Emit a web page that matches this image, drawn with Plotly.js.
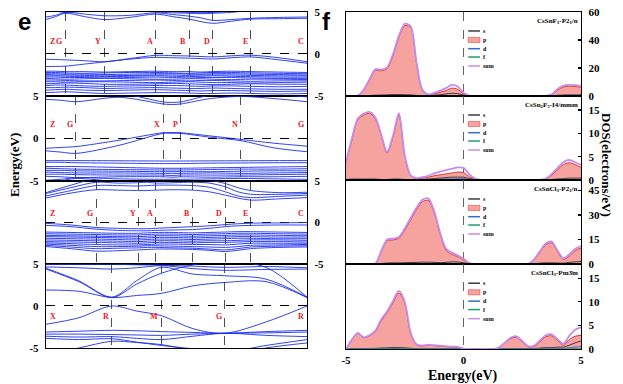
<!DOCTYPE html>
<html><head><meta charset="utf-8">
<script src="https://cdn.plot.ly/plotly-3.0.1.min.js"></script>
<style>html,body{margin:0;padding:0;background:#fff}#chart{width:623px;height:384px}</style>
</head><body><div id="chart"></div>
<script>
// ---------------- band structure data ----------------
const kLab1 = ['Z','G','Y','A','B','D','E','C'];
const kPos1 = [0,0.074,0.223,0.420,0.549,0.639,0.784,1];
const kGrid1 = [0,0.037,0.074,0.148,0.223,0.32,0.420,0.485,0.549,0.594,0.639,0.71,0.784,0.892,1];
const bands1 = [
 [4.1,4.45,4.85,4.45,4.1,4.35,4.75,4.45,4.15,3.85,3.65,3.9,4.15,4.2,4.25],
 [4.4,4.6,4.95,4.75,4.55,4.6,4.9,4.7,4.5,4.3,4.0,4.1,4.25,4.35,4.4],
 [5.3,5.1,4.95,5.1,5.3,5.2,5.0,4.9,4.85,4.8,4.85,4.95,5.2,5.3,5.3],
 [5.5,5.4,5.3,5.3,5.4,5.5,5.3,5.05,4.95,4.92,4.95,5.1,5.3,5.5,5.6],
 [-0.63,-0.66,-0.7,-0.8,-0.92,-0.55,-0.16,-0.2,-0.24,-0.3,-0.35,-0.22,-0.14,-0.45,-0.92],
 [-1.5,-1.48,-1.45,-1.2,-0.95,-0.62,-0.4,-0.45,-0.5,-0.55,-0.6,-0.45,-0.35,-0.7,-1.1],
 [-2.05,-2.05,-2.1,-2.1,-2.15,-2.1,-2.05,-2.1,-2.1,-2.15,-2.1,-2.05,-2.1,-2.15,-2.2],
 [-2.2,-2.2,-2.25,-2.3,-2.25,-2.2,-2.2,-2.25,-2.3,-2.25,-2.2,-2.2,-2.25,-2.3,-2.35],
 [-2.35,-2.35,-2.4,-2.4,-2.45,-2.4,-2.35,-2.35,-2.4,-2.4,-2.35,-2.35,-2.4,-2.45,-2.5],
 [-2.45,-2.5,-2.5,-2.55,-2.6,-2.55,-2.5,-2.5,-2.55,-2.5,-2.5,-2.5,-2.55,-2.6,-2.6],
 [-2.6,-2.6,-2.65,-2.7,-2.7,-2.65,-2.6,-2.65,-2.7,-2.65,-2.6,-2.65,-2.7,-2.75,-2.75],
 [-2.75,-2.75,-2.8,-2.8,-2.85,-2.8,-2.75,-2.8,-2.85,-2.8,-2.8,-2.8,-2.85,-2.9,-2.9],
 [-2.9,-2.95,-3.0,-2.95,-2.9,-2.95,-3.0,-3.0,-2.95,-2.95,-3.0,-3.05,-3.0,-3.0,-3.05],
 [-3.1,-3.1,-3.15,-3.2,-3.2,-3.15,-3.1,-3.15,-3.2,-3.15,-3.15,-3.2,-3.25,-3.2,-3.2],
 [-3.3,-3.3,-3.35,-3.3,-3.3,-3.35,-3.4,-3.35,-3.3,-3.35,-3.4,-3.4,-3.45,-3.4,-3.35],
 [-3.55,-3.5,-3.45,-3.5,-3.6,-3.6,-3.55,-3.5,-3.55,-3.6,-3.65,-3.6,-3.55,-3.6,-3.6],
 [-3.75,-3.7,-3.7,-3.8,-3.85,-3.8,-3.75,-3.75,-3.8,-3.85,-3.8,-3.8,-3.85,-3.9,-3.85],
 [-4.0,-4.0,-3.95,-4.0,-4.1,-4.05,-4.0,-4.05,-4.1,-4.1,-4.05,-4.1,-4.15,-4.2,-4.2],
 [-4.3,-4.25,-4.2,-4.3,-4.35,-4.3,-4.25,-4.3,-4.35,-4.4,-4.35,-4.35,-4.4,-4.45,-4.4],
 [-4.6,-4.55,-4.5,-4.6,-4.7,-4.65,-4.6,-4.6,-4.65,-4.7,-4.7,-4.65,-4.7,-4.75,-4.7]
];

const kLab2 = ['Z','G','X','P','N','G'];
const kPos2 = [0,0.115,0.449,0.516,0.746,1];
const kGrid2 = [0,0.057,0.115,0.28,0.449,0.483,0.516,0.63,0.746,0.873,1];
const bands2 = [
 [4.6,4.5,4.33,4.85,4.06,4.0,4.06,4.7,4.95,4.7,4.33],
 [5.3,5.2,5.05,5.3,4.3,4.25,4.3,5.1,5.3,5.15,4.9],
 [-1.15,-1.05,-0.95,-0.2,0.68,0.7,0.68,0.3,-0.1,-0.55,-0.9],
 [-1.45,-1.6,-1.75,-0.8,0.6,0.62,0.6,0.15,-0.25,-1.1,-1.55],
 [-2.6,-2.6,-2.6,-2.62,-2.65,-2.65,-2.65,-2.63,-2.62,-2.6,-2.6],
 [-2.8,-2.8,-2.85,-2.9,-2.95,-2.95,-2.95,-2.9,-2.88,-2.85,-2.85],
 [-3.3,-3.3,-3.3,-3.4,-3.5,-3.5,-3.5,-3.45,-3.4,-3.35,-3.3],
 [-3.5,-3.55,-3.6,-3.65,-3.7,-3.7,-3.7,-3.65,-3.6,-3.6,-3.55],
 [-3.75,-3.75,-3.8,-3.85,-3.9,-3.9,-3.9,-3.9,-3.85,-3.8,-3.8],
 [-3.95,-4.0,-4.05,-4.05,-4.1,-4.1,-4.1,-4.05,-4.1,-4.05,-4.0],
 [-4.2,-4.2,-4.25,-4.3,-4.3,-4.35,-4.3,-4.3,-4.3,-4.25,-4.2],
 [-4.45,-4.5,-4.6,-4.5,-4.5,-4.55,-4.5,-4.55,-4.5,-4.5,-4.45],
 [-4.9,-4.8,-4.6,-4.75,-4.8,-4.8,-4.8,-4.75,-4.7,-4.75,-4.8],
 [-5.4,-5.0,-4.7,-5.1,-5.3,-5.3,-5.3,-5.2,-5.0,-5.1,-5.3]
];

const kLab3 = ['Z','G','Y','A','B','D','E','C'];
const kPos3 = [0,0.192,0.355,0.421,0.562,0.687,0.784,1];
const kGrid3 = [0,0.096,0.192,0.274,0.355,0.388,0.421,0.49,0.562,0.625,0.687,0.735,0.784,0.892,1];
const bands3 = [
 [2.95,3.55,3.95,3.9,3.85,3.85,3.9,3.95,3.9,3.7,3.3,2.95,2.7,2.85,3.0],
 [3.2,3.85,4.45,4.45,4.4,4.45,4.5,4.5,4.45,4.25,3.7,3.2,3.0,3.15,3.3],
 [3.5,4.2,4.85,4.75,4.8,4.85,4.75,4.8,4.85,4.75,4.3,3.7,3.4,3.4,3.5],
 [3.6,4.5,5.3,5.2,5.05,5.0,5.1,5.2,5.2,5.1,4.7,4.2,3.85,3.6,3.65],
 [-0.1,-0.3,-0.6,-0.7,-0.75,-0.75,-0.7,-0.6,-0.5,-0.4,-0.25,-0.15,-0.08,-0.05,0.0],
 [-0.35,-0.5,-0.8,-0.95,-1.0,-1.0,-0.95,-0.9,-0.85,-0.7,-0.5,-0.4,-0.35,-0.3,-0.3],
 [-1.15,-1.2,-1.25,-1.3,-1.3,-1.25,-1.2,-1.2,-1.25,-1.2,-1.15,-1.1,-1.1,-1.15,-1.2],
 [-1.35,-1.4,-1.45,-1.5,-1.5,-1.45,-1.4,-1.4,-1.45,-1.4,-1.35,-1.3,-1.3,-1.35,-1.4],
 [-1.55,-1.6,-1.65,-1.7,-1.7,-1.65,-1.6,-1.6,-1.65,-1.6,-1.55,-1.5,-1.5,-1.55,-1.6],
 [-1.7,-1.75,-1.8,-1.85,-1.9,-1.85,-1.8,-1.8,-1.85,-1.8,-1.75,-1.7,-1.7,-1.75,-1.75],
 [-1.9,-1.95,-2.0,-2.05,-2.1,-2.05,-2.0,-2.0,-2.05,-2.0,-1.95,-1.9,-1.9,-1.95,-1.95],
 [-2.1,-2.15,-2.2,-2.25,-2.3,-2.25,-2.2,-2.2,-2.25,-2.2,-2.2,-2.15,-2.1,-2.1,-2.15],
 [-2.3,-2.35,-2.4,-2.45,-2.5,-2.45,-2.4,-2.4,-2.45,-2.4,-2.4,-2.35,-2.3,-2.3,-2.35],
 [-2.45,-2.55,-2.65,-2.7,-2.7,-2.65,-2.6,-2.6,-2.65,-2.65,-2.7,-2.6,-2.5,-2.5,-2.5],
 [-2.6,-2.75,-2.9,-2.9,-2.85,-2.8,-2.8,-2.85,-2.9,-2.95,-3.0,-2.9,-2.75,-2.7,-2.65],
 [-2.75,-2.95,-3.15,-3.1,-3.05,-3.0,-3.0,-3.05,-3.1,-3.2,-3.3,-3.15,-2.95,-2.85,-2.8],
 [-2.9,-3.15,-3.45,-3.4,-3.3,-3.25,-3.2,-3.2,-3.25,-3.35,-3.5,-3.35,-3.15,-3.0,-2.95]
];

const kLab4 = ['X','R','M','G','R'];
const kPos4 = [0,0.252,0.442,0.685,1];
const kGrid4 = [0,0.126,0.252,0.347,0.442,0.563,0.685,0.843,1];
const bands4 = [
 [1.9,1.75,1.0,1.25,1.5,2.4,2.8,2.9,1.0],
 [4.4,2.9,1.0,2.6,3.9,4.9,5.3,4.6,1.05],
 [4.5,3.0,1.05,3.0,4.6,3.8,3.6,3.2,1.05],
 [4.65,4.55,4.4,4.55,4.8,4.45,4.25,4.35,4.4],
 [4.95,4.95,4.97,4.9,4.85,4.75,4.6,4.7,4.55],
 [-2.18,-1.4,0,-0.6,-1.15,-2.7,-3.25,-1.9,0],
 [-3.1,-3.0,-2.9,-2.95,-3.05,-3.15,-3.25,-3.05,-2.9],
 [-3.35,-3.35,-3.4,-3.45,-3.5,-3.35,-3.25,-3.2,-3.1],
 [-3.6,-3.7,-3.65,-3.85,-4.0,-3.6,-3.25,-3.5,-3.65],
 [-3.85,-4.0,-3.9,-4.3,-4.7,-5.1,-5.5,-4.7,-4.0],
 [-5.8,-5.0,-4.2,-4.35,-4.6,-5.3,-6.0,-5.0,-4.4]
];

// ---------------- DOS data ----------------
const energyGrid = [-5,-4.75,-4.5,-4.25,-4,-3.75,-3.5,-3.25,-3,-2.75,-2.5,-2.25,-2,-1.75,-1.5,-1.25,-1,-0.75,-0.5,-0.25,0,0.25,0.5,0.75,1,1.25,1.5,1.75,2,2.25,2.5,2.75,3,3.25,3.5,3.75,4,4.25,4.5,4.75,5];

const sum1 = [0,0,0.3,4.5,12,19,18.8,20.5,30,43, 51.5,50,24,4.5,1.2,2.2,3.8,5.6,7.9,6.8, 2.4,0.2,0,0,0,0,0,0,0,0, 0,0,0,0,0.1,1.2,5,7.4,8,7.8, 7.2];
const p1 = [0,0,0.25,4.2,11.4,18.2,18,19.6,28.8,41.8, 50.3,49,23.4,4.2,0.9,1.5,2.6,3.9,5.6,4.8, 1.6,0.1,0,0,0,0,0,0,0,0, 0,0,0,0,0.05,0.9,4.2,6.4,7,6.8, 6.3];
const s1 = [0,0,0,0.1,0.3,0.6,0.7,0.8,1.0,1.0, 0.9,0.8,0.4,0.2,0.2,0.5,0.9,1.4,1.9,1.7, 0.7,0.1,0,0,0,0,0,0,0,0, 0,0,0,0,0,0.2,0.5,0.7,0.8,0.8, 0.8];
const d1 = [0,0,0,0.05,0.1,0.15,0.15,0.15,0.2,0.2, 0.25,0.2,0.1,0.05,0.05,0.1,0.15,0.2,0.3,0.3, 0.1,0,0,0,0,0,0,0,0,0, 0,0,0,0,0,0.05,0.15,0.2,0.2,0.2, 0.2];
const f1 = [0,0,0,0,0.02,0.03,0.03,0.03,0.04,0.05, 0.05,0.05,0.03,0,0,0,0.02,0.03,0.05,0.05, 0.02,0,0,0,0,0,0,0,0,0, 0,0,0,0,0,0.01,0.03,0.05,0.05,0.05, 0.05];

const sum2 = [3.9,8.9,13.2,14.2,14.6,13.4,9.7,6.0,9.5,14.3, 5.3,1.0,0.4,0.6,0.9,1.4,1.8,2.1,2.4,2.7, 2.6,1.2,0.3,0,0,0,0,0,0,0, 0,0,0,0,0.3,1.3,2.6,3.8,4.3,3.8, 3.2];
const p2 = [3.7,8.6,12.9,13.9,14.3,13.1,9.5,5.8,9.2,14.0, 5.1,0.9,0.3,0.4,0.6,0.9,1.1,1.3,1.5,1.7, 1.6,0.7,0.15,0,0,0,0,0,0,0, 0,0,0,0,0.2,1.0,2.2,3.3,3.7,3.3, 2.7];
const s2 = [0.1,0.2,0.2,0.2,0.2,0.2,0.1,0.1,0.2,0.2, 0.1,0.05,0.05,0.1,0.2,0.3,0.4,0.5,0.6,0.6, 0.6,0.3,0.1,0,0,0,0,0,0,0, 0,0,0,0,0.05,0.1,0.2,0.3,0.4,0.4, 0.4];
const d2 = [0.05,0.08,0.1,0.1,0.1,0.1,0.08,0.06,0.08,0.1, 0.05,0.03,0.02,0.05,0.08,0.1,0.15,0.2,0.2,0.25, 0.25,0.1,0.03,0,0,0,0,0,0,0, 0,0,0,0,0.03,0.1,0.15,0.15,0.15,0.1, 0.08];
const f2 = [0.01,0.02,0.03,0.03,0.03,0.03,0.02,0.02,0.02,0.03, 0.02,0.01,0,0,0.01,0.02,0.02,0.03,0.03,0.04, 0.04,0.02,0,0,0,0,0,0,0,0, 0,0,0,0,0,0.01,0.02,0.03,0.03,0.03, 0.02];

const sum3 = [0,0,0,0,0,0.3,8,15,15.6,16.5, 21.8,28.2,34.5,39.4,40.2,32.5,19.5,9.5,7,5.3, 3.2,0.6,0,0,0,0,0,0,0,0, 0,0,2.8,7.8,12.6,13.7,8.2,3.5,6,9.3, 11];
const p3 = [0,0,0,0,0,0.25,7.5,14.3,14.8,15.7, 20.8,27.1,33.4,38.2,39,31.5,18.8,8.5,6,4.5, 2.6,0.4,0,0,0,0,0,0,0,0, 0,0,2.5,7.2,11.8,13,7.6,2.9,4.8,8.2, 9.8];
const s3 = [0,0,0,0,0,0,0.3,0.6,0.7,0.7, 0.8,0.9,1,1.1,1.1,1,0.8,1,1.3,1.2, 0.8,0.2,0,0,0,0,0,0,0,0, 0,0,0.2,0.5,0.7,0.7,0.6,0.5,1,1.3, 1.5];
const d3 = [0,0,0,0,0,0.03,0.1,0.2,0.2,0.2, 0.25,0.3,0.35,0.4,0.4,0.35,0.25,0.2,0.2,0.15, 0.1,0.03,0,0,0,0,0,0,0,0, 0,0,0.1,0.2,0.25,0.25,0.15,0.1,0.15,0.2, 0.2];
const f3 = [0,0,0,0,0,0,0.02,0.04,0.04,0.04, 0.05,0.06,0.07,0.08,0.08,0.07,0.05,0.03,0.03,0.02, 0.02,0,0,0,0,0,0,0,0,0, 0,0,0.01,0.03,0.04,0.04,0.03,0.02,0.03,0.04, 0.05];

const sum4 = [0,2.0,3.4,2.5,2.9,3.9,6.3,8.0,10.2,12.3, 10.0,3.5,1.0,0.7,0.9,0.8,0.7,0.6,0.5,0.45, 0.1,0,0,0,0,0,0.3,1.3,2.4,2.7, 1.7,0.6,0.7,1.8,2.9,3.1,2.1,1.1,2.8,4.1, 4.6];
const p4 = [0,1.9,3.3,2.4,2.8,3.7,6.0,7.7,9.8,11.9, 9.7,3.3,0.9,0.6,0.8,0.7,0.6,0.5,0.4,0.35, 0.05,0,0,0,0,0,0.25,1.2,2.2,2.5, 1.5,0.5,0.5,1.5,2.6,2.8,1.8,0.8,2.0,2.7, 2.9];
const s4 = [0,0.05,0.1,0.1,0.1,0.15,0.2,0.25,0.3,0.3, 0.25,0.15,0.05,0.05,0.05,0.05,0.05,0.05,0.05,0.05, 0,0,0,0,0,0,0,0.05,0.1,0.1, 0.1,0.05,0.1,0.2,0.3,0.3,0.4,0.4,0.8,1.3, 1.7];
const d4 = [0,0.02,0.03,0.03,0.03,0.05,0.08,0.1,0.1,0.1, 0.1,0.05,0.02,0.02,0.03,0.03,0.03,0.03,0.03,0.03, 0,0,0,0,0,0,0.03,0.05,0.08,0.1, 0.08,0.03,0.05,0.1,0.15,0.15,0.15,0.15,0.25,0.4, 0.5];
const f4 = [0,0,0,0,0,0,0.01,0.02,0.02,0.02, 0.02,0.01,0,0,0,0,0,0,0,0, 0,0,0,0,0,0,0,0,0.01,0.01, 0.01,0,0,0.01,0.02,0.02,0.02,0.02,0.03,0.05, 0.06];

const dosTitles = ['CsSnF<sub>3</sub>-P2<sub>1</sub>/n','CsSn<sub>2</sub>F<sub>5</sub>-I4/mmm','CsSnCl<sub>3</sub>-P2<sub>1</sub>/n','CsSnCl<sub>3</sub>-Pm3\u0304m'];
const dosTicks = [[0,20,40,60],[0,5,10,15],[0,15,30,45],[0,5,10,15]];
const dosMax = [60,18,51.5,18];
const legendNames = ['s','p','d','f','sum'];

// ---------------- build ----------------
const SERIF = '"Liberation Serif","Times New Roman",serif';
const BAND_COLOR = '#1a2ef0';
const COL = {s:'#3b3b3b', p:'#e2302a', pFill:'rgba(246,158,155,0.95)', d:'#2a6fd6', f:'#1f9e6e', sum:'#c58cf0'};

const bandPanels = [
  {k:kGrid1, bands:bands1, pos:kPos1, lab:kLab1, labY:1.45, side:'right'},
  {k:kGrid2, bands:bands2, pos:kPos2, lab:kLab2, labY:1.6, side:'left'},
  {k:kGrid3, bands:bands3, pos:kPos3, lab:kLab3, labY:1.1, side:'right'},
  {k:kGrid4, bands:bands4, pos:kPos4, lab:kLab4, labY:-1.27, side:'left'}
];
const dosPanels = [
  {s:s1,p:p1,d:d1,f:f1,sum:sum1},
  {s:s2,p:p2,d:d2,f:f2,sum:sum2},
  {s:s3,p:p3,d:d3,f:f3,sum:sum3},
  {s:s4,p:p4,d:d4,f:f4,sum:sum4}
];
const BAND_ROWS = [[0.75,0.9688],[0.5286,0.75],[0.3125,0.5286],[0.0938,0.3125]];
const DOS_ROWS = [[0.75,0.9688],[0.5313,0.75],[0.3125,0.5313],[0.0911,0.3125]];

const traces = [];
const annotations = [];
const shapes = [];
const layout = {
  width:623, height:384, margin:{l:0,r:0,t:0,b:0},
  paper_bgcolor:'#fff', plot_bgcolor:'#fff', showlegend:false,
  font:{family:SERIF, color:'#000'}
};
const tickFont = {family:SERIF, size:11, weight:700, color:'#000'};

bandPanels.forEach((P, i) => {
  const n = i + 1;
  const xs = n === 1 ? '' : String(n);
  P.bands.forEach(b => traces.push({
    type:'scatter', mode:'lines', x:P.k, y:b, xaxis:'x'+xs, yaxis:'y'+xs,
    line:{color:BAND_COLOR, width:0.9, shape:'spline', smoothing:0.9},
    hoverinfo:'skip', showlegend:false
  }));
  layout['xaxis'+xs] = {domain:[0.0738,0.4928], range:[0,1], anchor:'y'+xs,
    tickvals:P.pos, showticklabels:false, ticks:'', showgrid:true, griddash:'dash',
    gridcolor:'#222', gridwidth:0.8, zeroline:false, showline:true, mirror:true,
    linecolor:'#000', linewidth:1.2, fixedrange:true};
  layout['yaxis'+xs] = {domain:BAND_ROWS[i], range:[-5,5], anchor:'x'+xs, side:P.side,
    tickvals:[-5,0,5], ticktext:['-5','0','5'], ticks:'', showgrid:true, griddash:'dash',
    gridcolor:'#000', gridwidth:1, zeroline:false, showline:true, mirror:true,
    linecolor:'#000', linewidth:1.2, tickfont:tickFont, ticklabelstandoff:4, fixedrange:true};
  P.lab.forEach((t, j) => {
    const first = j === 0;
    annotations.push({xref:'x'+xs, yref:'y'+xs, x:P.pos[j], y:P.labY, text:t, showarrow:false,
      xanchor:first ? 'left' : 'right', yanchor:'middle', xshift:first ? 2 : -1,
      font:{family:SERIF, size:8, weight:700, color:'#e8211d'}});
  });
});

dosPanels.forEach((D, i) => {
  const n = i + 5;
  const xa = 'x'+n, ya = 'y'+n;
  const base = {type:'scatter', mode:'lines', x:energyGrid, xaxis:xa, yaxis:ya, hoverinfo:'skip', showlegend:false};
  traces.push(Object.assign({}, base, {y:D.p, fill:'tozeroy', fillcolor:COL.pFill, line:{color:COL.p, width:1, shape:'spline', smoothing:0.8}}));
  traces.push(Object.assign({}, base, {y:D.s, line:{color:COL.s, width:1, shape:'spline', smoothing:0.8}}));
  traces.push(Object.assign({}, base, {y:D.d, line:{color:COL.d, width:1, shape:'spline', smoothing:0.8}}));
  traces.push(Object.assign({}, base, {y:D.f, line:{color:COL.f, width:1, shape:'spline', smoothing:0.8}}));
  traces.push(Object.assign({}, base, {y:D.sum, line:{color:COL.sum, width:1.8, shape:'spline', smoothing:0.8}}));
  layout['xaxis'+n] = {domain:[0.5554,0.9326], range:[-5,5], anchor:ya,
    tickvals:[-5,0,5], ticktext:['-5','0','5'], showticklabels:i === 3, ticks:'',
    showgrid:true, griddash:'dash', gridcolor:'#555', gridwidth:0.9, zeroline:false,
    showline:true, mirror:true, linecolor:'#000', linewidth:1.2, tickfont:tickFont,
    ticklabelstandoff:1, fixedrange:true};
  layout['yaxis'+n] = {domain:DOS_ROWS[i], range:[0,dosMax[i]], anchor:xa, side:'right',
    tickvals:dosTicks[i], ticks:'inside', ticklen:3, tickwidth:1.2, tickcolor:'#000',
    showgrid:false, zeroline:false, showline:true, mirror:true, linecolor:'#000', linewidth:1.2,
    tickfont:tickFont, ticklabelstandoff:4, fixedrange:true};
  annotations.push({xref:xa+' domain', yref:ya+' domain', x:0.995, y:0.895, text:dosTitles[i],
    showarrow:false, xanchor:'right', yanchor:'middle',
    font:{family:SERIF, size:7, weight:700, color:'#000'}});
  // legend block
  const ly = [0.774, 0.667, 0.563, 0.464, 0.357];
  legendNames.forEach((nm, j) => {
    if (nm === 'p') {
      shapes.push({type:'rect', xref:xa+' domain', yref:ya+' domain', x0:0.52, x1:0.57,
        y0:ly[j]-0.03, y1:ly[j]+0.03, fillcolor:COL.pFill, line:{color:COL.p, width:0.5}});
    } else {
      shapes.push({type:'line', xref:xa+' domain', yref:ya+' domain', x0:0.52, x1:0.57,
        y0:ly[j], y1:ly[j], line:{color:COL[nm], width:1.5}});
    }
    annotations.push({xref:xa+' domain', yref:ya+' domain', x:0.575, y:ly[j], text:nm,
      showarrow:false, xanchor:'left', yanchor:'middle',
      font:{family:SERIF, size:6, weight:700, color:'#000'}});
  });
});

// panel letters and axis titles
annotations.push({xref:'paper', yref:'paper', x:24/623, y:1-22/384, text:'e', showarrow:false,
  xanchor:'center', yanchor:'middle', font:{family:'"Liberation Sans",Arial,sans-serif', size:24, weight:700, color:'#000'}});
annotations.push({xref:'paper', yref:'paper', x:326/623, y:1-21/384, text:'f', showarrow:false,
  xanchor:'center', yanchor:'middle', font:{family:'"Liberation Sans",Arial,sans-serif', size:24, weight:700, color:'#000'}});
annotations.push({xref:'paper', yref:'paper', x:14/623, y:1-165/384, text:'Energy(eV)', showarrow:false,
  textangle:-90, xanchor:'center', yanchor:'middle', font:{family:SERIF, size:13, weight:700, color:'#000'}});
annotations.push({xref:'paper', yref:'paper', x:607/623, y:1-165/384, text:'DOS(electrons/eV)', showarrow:false,
  textangle:90, xanchor:'center', yanchor:'middle', font:{family:SERIF, size:13, weight:700, color:'#000'}});
annotations.push({xref:'paper', yref:'paper', x:463/623, y:1-376/384, text:'Energy(eV)', showarrow:false,
  xanchor:'center', yanchor:'middle', font:{family:SERIF, size:14, weight:700, color:'#000'}});

layout.annotations = annotations;
layout.shapes = shapes;

Plotly.newPlot('chart', traces, layout, {displayModeBar:false, staticPlot:true});
</script>
</body></html>
